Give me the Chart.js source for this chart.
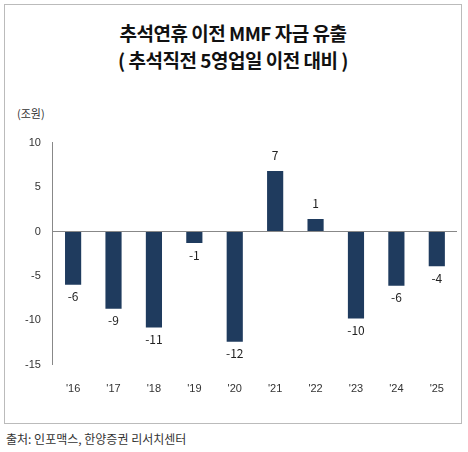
<!DOCTYPE html>
<html><head><meta charset="utf-8">
<script src="https://cdn.jsdelivr.net/npm/chart.js@4"></script>
<style>
body{margin:0;width:468px;height:452px;background:#fff;font-family:"Noto Sans CJK KR",sans-serif;position:relative;overflow:hidden}
#box{position:absolute;left:4px;top:4px;width:458px;height:420px;border:1px solid #bbb;box-sizing:border-box}
#t{position:absolute;left:0;width:100%;top:14px;text-align:center;font-size:19px;font-weight:bold;line-height:27px;color:#111;letter-spacing:-0.5px}
#unit{position:absolute;left:12px;top:100px;font-size:11px;color:#333}
#cw{position:absolute;left:8px;top:119px;width:452px;height:282px}
#src{position:absolute;left:6px;top:430px;font-size:12px;color:#333}
</style></head><body>
<div id="box"><div id="t">추석연휴 이전 MMF 자금 유출<br>( 추석직전 5영업일 이전 대비 )</div>
<div id="unit">(조원)</div>
<div id="cw"><canvas id="c"></canvas></div></div>
<div id="src">출처: 인포맥스, 한양증권 리서치센터</div>
<script>
const categories=["'16","'17","'18","'19","'20","'21","'22","'23","'24","'25"];
const values=[-6.0,-8.7,-10.8,-1.3,-12.4,6.8,1.4,-9.8,-6.1,-3.9];
const labels=["-6","-9","-11","-1","-12","7","1","-10","-6","-4"];
const yTicks=[10,5,0,-5,-10,-15];
const lbl={id:'lbl',afterDatasetsDraw(ch){const c=ch.ctx;const m=ch.getDatasetMeta(0);c.save();c.font='12px "Noto Sans CJK KR"';c.fillStyle='#222';c.textAlign='center';
m.data.forEach((b,i)=>{const v=values[i];if(v>=0){c.textBaseline='bottom';c.fillText(labels[i],b.x,b.y-10);}else{c.textBaseline='top';c.fillText(labels[i],b.x,b.y+6);}});c.restore();}};
new Chart(document.getElementById('c'),{type:'bar',data:{labels:categories,datasets:[{data:values,backgroundColor:'#1f3b5e',barPercentage:0.4,categoryPercentage:1}]},
options:{responsive:true,maintainAspectRatio:false,animation:false,layout:{padding:{left:0,right:8,top:8,bottom:0}},
plugins:{legend:{display:false},tooltip:{enabled:false}},
scales:{x:{grid:{display:false},border:{display:false},ticks:{color:'#333',font:{size:11},padding:10}},
y:{min:-15,max:10,afterBuildTicks(s){s.ticks=yTicks.map(v=>({value:v}));},grid:{drawTicks:false,color:c=>c.tick.value===0?'#888':'transparent'},border:{color:'#888'},ticks:{color:'#333',font:{size:11},padding:12}}}},
plugins:[lbl]});
</script></body></html>
